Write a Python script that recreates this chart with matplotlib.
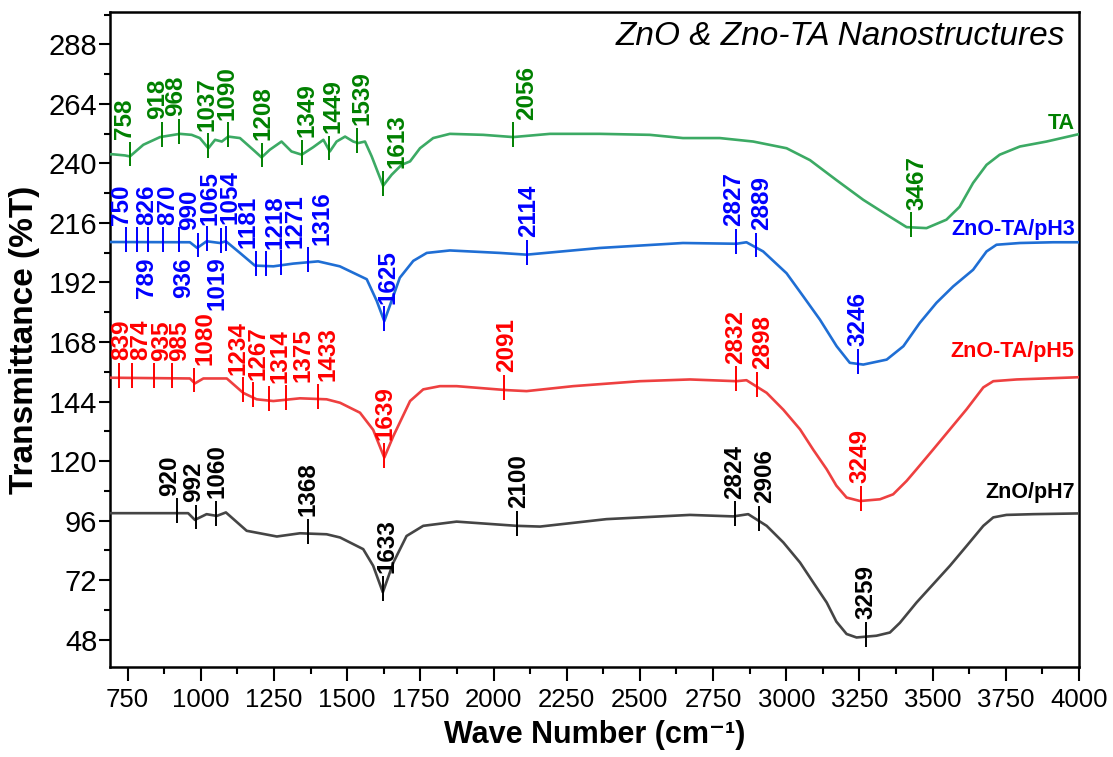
import matplotlib
matplotlib.use('Agg')
import matplotlib.pyplot as plt
import numpy as np

# FTIR spectra (wave number cm-1, transmittance %T, offset)
ta_wn = [690, 696, 741, 758, 804, 861, 929, 969, 997, 1026, 1049, 1072, 1094, 1134,
         1179, 1208, 1236, 1276, 1310, 1345, 1384, 1419, 1441, 1464, 1493, 1521, 1538,
         1561, 1584, 1606, 1623, 1652, 1686, 1715, 1749, 1794, 1851, 1965, 2067, 2193,
         2363, 2534, 2647, 2773, 2887, 3001, 3081, 3172, 3263, 3343, 3411, 3479, 3547,
         3592, 3638, 3684, 3729, 3798, 3889, 4000]
ta_T = [243.6, 243.7, 243.2, 242.8, 247.5, 250.6, 251.9, 251.5, 250.2, 246.1, 249.5,
        248.8, 250.8, 250.2, 245.5, 242.4, 245.5, 248.8, 244.8, 243.5, 246.5, 249.5,
        244.8, 248.8, 250.8, 248.8, 248.2, 248.8, 242.8, 236.1, 231.0, 235.4, 239.4,
        240.8, 246.1, 250.2, 251.9, 251.5, 250.6, 251.9, 251.9, 251.5, 250.2, 250.2,
        248.8, 246.1, 241.3, 233.2, 225.3, 219.3, 214.3, 213.9, 217.3, 222.5, 232.1,
        239.4, 243.5, 246.8, 248.8, 251.8]

p3_wn = [690, 963, 988, 1020, 1066, 1086, 1134, 1185, 1248, 1316, 1401, 1475, 1521,
         1567, 1601, 1627, 1652, 1680, 1726, 1772, 1851, 2022, 2113, 2363, 2647, 2830,
         2864, 2921, 3001, 3058, 3115, 3172, 3217, 3263, 3343, 3400, 3456, 3513, 3570,
         3638, 3684, 3718, 3798, 3912, 4000]
p3_T = [208.3, 208.2, 205.9, 208.6, 207.9, 208.6, 203.9, 198.8, 198.5, 199.6, 200.5,
        198.5, 195.9, 193.3, 184.6, 176.4, 184.6, 193.9, 200.7, 203.9, 204.9, 203.9,
        203.2, 205.9, 207.9, 207.6, 208.2, 204.5, 195.7, 186.4, 177.0, 166.3, 159.6,
        158.9, 160.9, 166.3, 175.7, 183.8, 190.4, 197.1, 204.5, 207.2, 207.9, 208.2,
        208.2]

p5_wn = [690, 963, 980, 1009, 1089, 1145, 1191, 1248, 1339, 1430, 1476, 1544, 1589,
         1627, 1658, 1715, 1760, 1817, 1874, 2045, 2113, 2272, 2500, 2671, 2830, 2864,
         2933, 2990, 3047, 3092, 3138, 3171, 3206, 3252, 3320, 3365, 3411, 3445, 3502,
         3559, 3616, 3673, 3707, 3787, 4000]
p5_T = [153.6, 153.3, 151.3, 153.3, 153.3, 147.5, 144.9, 144.2, 145.3, 144.9, 143.5,
        139.5, 132.6, 121.4, 130.1, 144.2, 148.9, 150.2, 150.2, 148.6, 148.2, 150.2,
        152.2, 152.9, 152.2, 152.6, 147.5, 140.7, 132.8, 124.6, 116.7, 110.1, 105.3,
        103.9, 104.6, 106.6, 112.0, 116.7, 124.7, 132.8, 140.9, 149.7, 152.2, 152.9,
        153.8]

p7_wn = [690, 957, 980, 1020, 1055, 1086, 1157, 1260, 1339, 1430, 1476, 1555, 1589,
         1622, 1658, 1703, 1760, 1874, 2079, 2159, 2386, 2671, 2819, 2870, 2933, 2990,
         3047, 3092, 3138, 3171, 3206, 3240, 3308, 3354, 3388, 3445, 3502, 3559, 3616,
         3673, 3707, 3752, 3844, 4000]
p7_T = [99.0, 99.0, 96.3, 98.6, 97.9, 99.3, 91.9, 89.6, 90.9, 90.5, 89.2, 84.5, 77.8,
        67.1, 79.1, 89.8, 93.9, 95.6, 93.9, 93.6, 96.6, 98.3, 97.7, 98.6, 93.9, 87.2,
        79.1, 71.1, 63.0, 55.3, 50.3, 48.9, 49.6, 50.9, 54.8, 63.0, 70.4, 77.8, 85.8,
        93.9, 97.3, 98.3, 98.6, 98.9]

# peak labels: text, where the marker sits, where the text sits
ta_lbl = [758, 918, 968, 1037, 1090, 1208, 1349, 1449, 1539, 1613, 2056, 3467]
ta_mark = [758, 867, 926, 1026, 1092, 1208, 1345, 1439, 1535, 1623, 2067, 3425]
ta_txt = [741, 852, 915, 1022, 1089, 1212, 1362, 1453, 1550, 1669, 2113, 3445]

p3_lbl = [750, 789, 826, 870, 936, 990, 1019, 1065, 1054, 1181, 1218, 1271, 1316,
          1625, 2114, 2827, 2889, 3246]
p3_mark = [745, 783, 821, 872, 926, 990, 1020, 1068, 1086, 1188, 1222, 1274, 1367,
           1627, 2113, 2827, 2896, 3246]
p3_txt = [730, 815, 815, 889, 940, 963, 1056, 1032, 1100, 1162, 1254, 1322, 1413,
          1640, 2119, 2819, 2916, 3246]
p3_below = [789, 936, 1019]

p5_lbl = [839, 874, 935, 985, 1080, 1234, 1267, 1314, 1375, 1433, 1639, 2091, 2832,
          2898, 3249]
p5_mark = [721, 766, 840, 903, 977, 1143, 1177, 1234, 1290, 1399, 1627, 2037, 2827,
           2899, 3255]
p5_txt = [730, 795, 867, 929, 1014, 1128, 1196, 1271, 1350, 1434, 1629, 2045, 2827,
          2920, 3252]

p7_lbl = [920, 992, 1060, 1368, 1633, 2100, 2824, 2906, 3259]
p7_mark = [918, 983, 1052, 1367, 1624, 2079, 2825, 2906, 3271]
p7_txt = [895, 975, 1054, 1367, 1635, 2085, 2825, 2927, 3271]

plt.rcParams['font.family'] = ['Liberation Sans', 'DejaVu Sans']

fig = plt.figure(figsize=(11.13, 7.57), dpi=100)
ax = fig.add_axes([0.0988, 0.1189, 0.8707, 0.8652])

series = [
    (ta_wn, ta_T, ta_lbl, ta_mark, ta_txt, [], '#3CAA64', '#008000', 'TA', 255.9),
    (p3_wn, p3_T, p3_lbl, p3_mark, p3_txt, p3_below, '#1F6ED4', '#0000FF', 'ZnO-TA/pH3', 213.3),
    (p5_wn, p5_T, p5_lbl, p5_mark, p5_txt, [], '#EE4040', '#FF0000', 'ZnO-TA/pH5', 164.2),
    (p7_wn, p7_T, p7_lbl, p7_mark, p7_txt, [], '#454545', '#000000', 'ZnO/pH7', 107.4),
]

for wn, T, lbl, mark, txt, below, lc, tc, name, ny in series:
    ax.plot(wn, T, color=lc, lw=1.9, zorder=3)
    ym = np.interp(mark, wn, T)
    ax.vlines(mark, ym - 4, ym + 6, color=tc, lw=1.4, zorder=4)
    for v, xm, xt, y in zip(lbl, mark, txt, ym):
        if v in below:
            ax.annotate(str(v), xy=(xt, y - 5.5), xytext=(0, -1), textcoords='offset points',
                        rotation=90, ha='center', va='top', color=tc,
                        fontsize=17.5, fontweight='bold')
        else:
            ax.annotate(str(v), xy=(xt, y + 6.5), xytext=(0, 1), textcoords='offset points',
                        rotation=90, ha='center', va='bottom', color=tc,
                        fontsize=17.5, fontweight='bold')
    ax.text(3985, ny, name, color=tc, fontsize=15.5, fontweight='bold',
            ha='right', va='center', zorder=5)

ax.text(0.9855, 0.962, 'ZnO & Zno-TA Nanostructures', transform=ax.transAxes,
        ha='right', va='center', fontsize=24, style='italic')

ax.set_xlim(690, 4000)
ax.set_ylim(37, 301)
xt = np.arange(750, 4001, 250)
ax.set_xticks(xt, labels=[str(v) for v in xt], fontsize=18.5)
ax.set_xticks(np.arange(875, 4000, 250), minor=True)
ax.set_yticks(np.arange(48, 289, 24))
ax.set_yticks(np.arange(60, 301, 24), minor=True)
ax.tick_params(axis='y', which='major', length=8, width=1.5, pad=1, labelsize=21)
ax.tick_params(axis='y', which='minor', length=4, width=1.5)
ax.tick_params(axis='x', which='major', length=10, width=1.5, pad=5)
ax.tick_params(axis='x', which='minor', length=5, width=1.5)
for s in ax.spines.values():
    s.set_linewidth(1.8)

ax.set_xlabel('Wave Number (cm\u207b\u00b9)', fontsize=22, fontweight='bold', labelpad=6)
ax.set_ylabel('Transmittance (%T)', fontsize=24, fontweight='bold', labelpad=6)

fig.savefig('out.png', dpi=100)
